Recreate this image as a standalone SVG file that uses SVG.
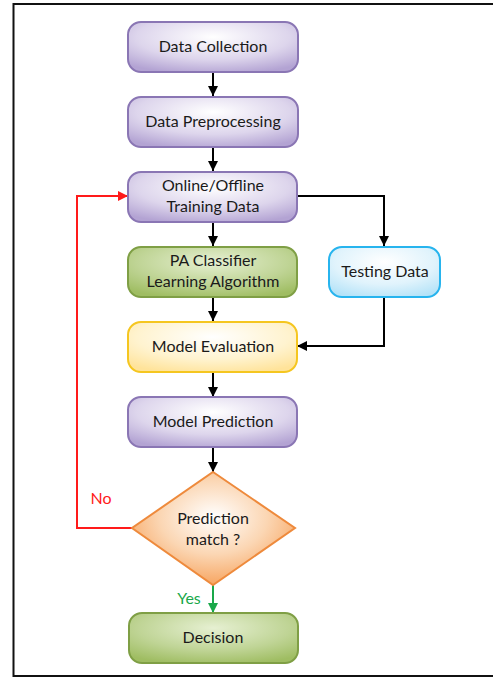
<svg xmlns="http://www.w3.org/2000/svg" width="493" height="677" viewBox="0 0 493 677">
<defs>
<radialGradient id="gPurple" cx="0.5" cy="0.3" r="0.75">
<stop offset="0" stop-color="#ffffff"/>
<stop offset="0.6" stop-color="#ddd5ec"/>
<stop offset="1" stop-color="#b3a3d3"/>
</radialGradient>
<radialGradient id="gGreen" cx="0.5" cy="0.3" r="0.75">
<stop offset="0" stop-color="#e6f0d2"/>
<stop offset="0.6" stop-color="#bfd495"/>
<stop offset="1" stop-color="#9fbd62"/>
</radialGradient>
<radialGradient id="gYellow" cx="0.5" cy="0.3" r="0.75">
<stop offset="0" stop-color="#ffffff"/>
<stop offset="0.6" stop-color="#fff3cf"/>
<stop offset="1" stop-color="#ffe39a"/>
</radialGradient>
<radialGradient id="gBlue" cx="0.5" cy="0.3" r="0.75">
<stop offset="0" stop-color="#ffffff"/>
<stop offset="0.6" stop-color="#e0f3fc"/>
<stop offset="1" stop-color="#b5e3f8"/>
</radialGradient>
<radialGradient id="gOrange" cx="0.5" cy="0.4" r="0.6">
<stop offset="0" stop-color="#ffffff"/>
<stop offset="0.55" stop-color="#fbd6b3"/>
<stop offset="1" stop-color="#f7a561"/>
</radialGradient>
<marker id="ab" viewBox="0 0 10 10" refX="10" refY="5" markerWidth="10" markerHeight="10" markerUnits="userSpaceOnUse" orient="auto">
<path d="M0,0 L10,5 L0,10 z" fill="#000"/>
</marker>
<marker id="ar" viewBox="0 0 10 10" refX="10" refY="5" markerWidth="10" markerHeight="10" markerUnits="userSpaceOnUse" orient="auto">
<path d="M0,0 L10,5 L0,10 z" fill="#ff1a1a"/>
</marker>
<marker id="ag" viewBox="0 0 10 10" refX="10" refY="5" markerWidth="10" markerHeight="10" markerUnits="userSpaceOnUse" orient="auto">
<path d="M0,0 L10,5 L0,10 z" fill="#1aa84a"/>
</marker>
</defs>
<style>
text{font-family:Lato,"Liberation Sans",sans-serif;font-size:16px;fill:#1a1a1a;text-anchor:middle}
.box{stroke-width:2}
.purple{fill:url(#gPurple);stroke:#8a76b4}
.green{fill:url(#gGreen);stroke:#7f9f45}
.yellow{fill:url(#gYellow);stroke:#f5c620}
.blue{fill:url(#gBlue);stroke:#27b4ee}
.orange{fill:url(#gOrange);stroke:#ee8a3c}
.c{fill:none;stroke:#000;stroke-width:2;marker-end:url(#ab)}
.frame{stroke:#111;stroke-width:2;fill:none}
</style>
<g id="frame">
<path class="frame" d="M493,4 H13.5 V676 H493"/>
</g>
<g id="connectors">
<path class="c" d="M213,72 V96"/>
<path class="c" d="M213,147 V171"/>
<path class="c" d="M213,222 V246"/>
<path class="c" d="M297,196 H384 V246"/>
<path class="c" d="M213,297 V321"/>
<path class="c" d="M384,297 V346 H297"/>
<path class="c" d="M213,372 V397"/>
<path class="c" d="M213,447 V472"/>
<path d="M132,528 H77 V196 H128" fill="none" stroke="#ff1a1a" stroke-width="2" marker-end="url(#ar)"/>
<path d="M213,585 V613" fill="none" stroke="#1aa84a" stroke-width="2" marker-end="url(#ag)"/>
<text x="101" y="504" style="fill:#ff1a1a">No</text>
<text x="189" y="604" style="fill:#1aa84a">Yes</text>
</g>
<g id="data-collection">
<rect class="box purple" x="128" y="22" width="170" height="50" rx="13"/>
<text x="213" y="52">Data Collection</text>
</g>
<g id="data-preprocessing">
<rect class="box purple" x="128" y="97" width="170" height="50" rx="13"/>
<text x="213" y="127">Data Preprocessing</text>
</g>
<g id="training-data">
<rect class="box purple" x="128" y="172" width="169" height="50" rx="13"/>
<text x="213" y="191">Online/Offline</text>
<text x="213" y="212">Training Data</text>
</g>
<g id="pa-classifier">
<rect class="box green" x="128" y="247" width="169" height="50" rx="13"/>
<text x="213" y="266">PA Classifier</text>
<text x="213" y="287">Learning Algorithm</text>
</g>
<g id="testing-data">
<rect class="box blue" x="329" y="247" width="111" height="50" rx="13"/>
<text x="385" y="277">Testing Data</text>
</g>
<g id="model-evaluation">
<rect class="box yellow" x="128" y="322" width="169" height="50" rx="13"/>
<text x="213" y="352">Model Evaluation</text>
</g>
<g id="model-prediction">
<rect class="box purple" x="128" y="397" width="169" height="50" rx="13"/>
<text x="213" y="427">Model Prediction</text>
</g>
<g id="prediction-match">
<polygon class="box orange" points="213,472 295,528 213,585 132,528"/>
<text x="213" y="524">Prediction</text>
<text x="213" y="545">match ?</text>
</g>
<g id="decision">
<rect class="box green" x="129" y="613" width="169" height="50" rx="13"/>
<text x="213" y="643">Decision</text>
</g>
</svg>
